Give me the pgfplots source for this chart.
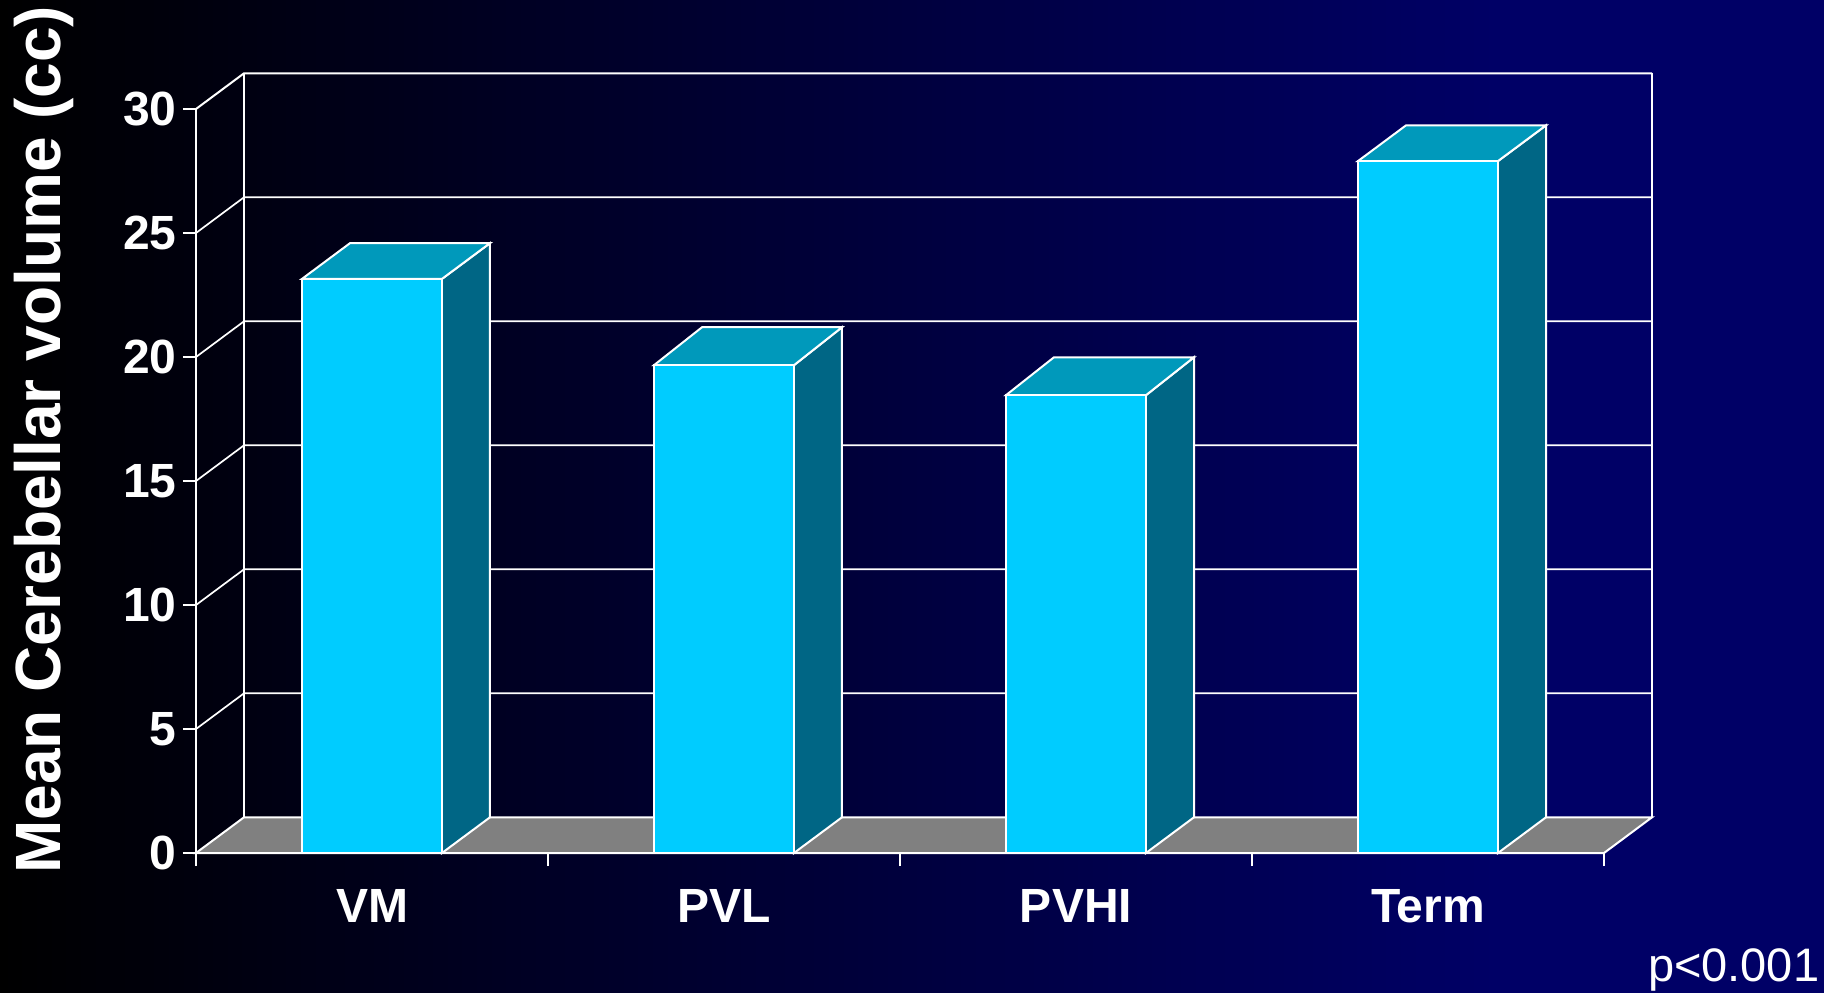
\documentclass[border=0pt]{standalone}
\usepackage{fontspec}
\setmainfont{Liberation Sans}
\usepackage{pgfplots}
\pgfplotsset{compat=1.18}

\definecolor{barfront}{HTML}{00CCFF}
\definecolor{bartop}{HTML}{0099BB}
\definecolor{barside}{HTML}{006685}
\definecolor{floorgrey}{HTML}{808080}
\definecolor{slidenavy}{HTML}{000066}

% background running from black to navy, flat over the last stretch
\pgfdeclarehorizontalshading{slidebg}{100bp}{
  color(0bp)=(black); color(25bp)=(black);
  color(66bp)=(slidenavy); color(100bp)=(slidenavy)}

% depth of the oblique projection, in data units
\newcommand{\dx}{0.1364}
\newcommand{\dy}{1.44}

% one oblique bar: #1 = left edge of the front face, #2 = value, #3 = depth of its top
\newcommand{\obliquebar}[3]{%
  \pgfmathsetmacro{\xl}{#1}%
  \pgfmathsetmacro{\xr}{#1+0.3977}%
  \pgfmathsetmacro{\xlb}{\xl+\dx}%
  \pgfmathsetmacro{\xrb}{\xr+\dx}%
  \pgfmathsetmacro{\yb}{#2+#3}%
  \addplot[edge, fill=barside] coordinates {(\xr,0) (\xrb,\dy) (\xrb,\yb) (\xr,#2)} -- cycle;
  \addplot[edge, fill=bartop] coordinates {(\xl,#2) (\xr,#2) (\xrb,\yb) (\xlb,\yb)} -- cycle;
  \addplot[edge, fill=barfront] coordinates {(\xl,0) (\xr,0) (\xr,#2) (\xl,#2)} -- cycle;
}

% wall gridline at value #1, from the front edge to the back wall and across
\newcommand{\wallgrid}[1]{%
  \pgfmathsetmacro{\yb}{#1+\dy}%
  \pgfmathsetmacro{\xe}{4+\dx}%
  \addplot[edge, thin line] coordinates {(0,#1) (\dx,\yb) (\xe,\yb)};
}

\begin{document}
\begin{tikzpicture}
\useasboundingbox (0,0) rectangle (912pt,496pt);
\shade[shading=slidebg] (0,0) rectangle (912pt,496pt);
\begin{axis}[
  at={(98pt,69.5pt)}, anchor=south west,
  scale only axis, width=704pt, height=372pt,
  xmin=0, xmax=4, ymin=0, ymax=30,
  clip=false,
  edge/.style={draw=white, line width=1pt, line join=miter},
  thin line/.style={line width=0.85pt},
  axis lines*=left,
  axis line style={draw=white, line width=1pt},
  tick style={draw=white, line width=1pt},
  tick align=outside, tickwidth=6.5pt,
  ytick={0,5,...,30},
  xtick={0,1,2,3,4}, xticklabels={},
  extra x ticks={0.5,1.5,2.5,3.5},
  extra x tick labels={VM,PVL,PVHI,Term},
  extra x tick style={major tick length=0pt},
  tick label style={text=white, font=\bfseries\fontsize{24}{24}\selectfont},
  /pgf/number format/assume math mode=true,
  every y tick label/.append style={inner sep=0pt, xshift=-3pt},
  every x tick label/.append style={inner sep=0pt, anchor=north, yshift=-18pt},
  ylabel={Mean Cerebellar volume (cc)},
  y label style={at={(axis description cs:-0.0868,0.5556)}, anchor=south, rotate=0,
    text=white, inner sep=0pt, font=\bfseries\fontsize{32}{32}\selectfont},
]
  % floor
  \addplot[edge, fill=floorgrey] coordinates {(0,0) (4,0) (4.1364,1.44) (0.1364,1.44)} -- cycle;
  % walls
  \addplot[edge] coordinates {(0.1364,1.44) (0.1364,31.44)};
  \addplot[edge] coordinates {(4.1364,1.44) (4.1364,31.44)};
  \wallgrid{5}
  \wallgrid{10}
  \wallgrid{15}
  \wallgrid{20}
  \wallgrid{25}
  \addplot[edge] coordinates {(0,30) (0.1364,31.44) (4.1364,31.44)};
  % bars
  \obliquebar{0.3011}{23.15}{1.44}
  \obliquebar{1.3011}{19.67}{1.53}
  \obliquebar{2.3011}{18.46}{1.53}
  \obliquebar{3.3011}{27.90}{1.44}
\end{axis}
\node[anchor=base east, inner sep=0pt, text=white, font=\fontsize{23.5}{24}\selectfont]
  at (909.8pt,5.2pt) {p<0.001};
\end{tikzpicture}
\end{document}
